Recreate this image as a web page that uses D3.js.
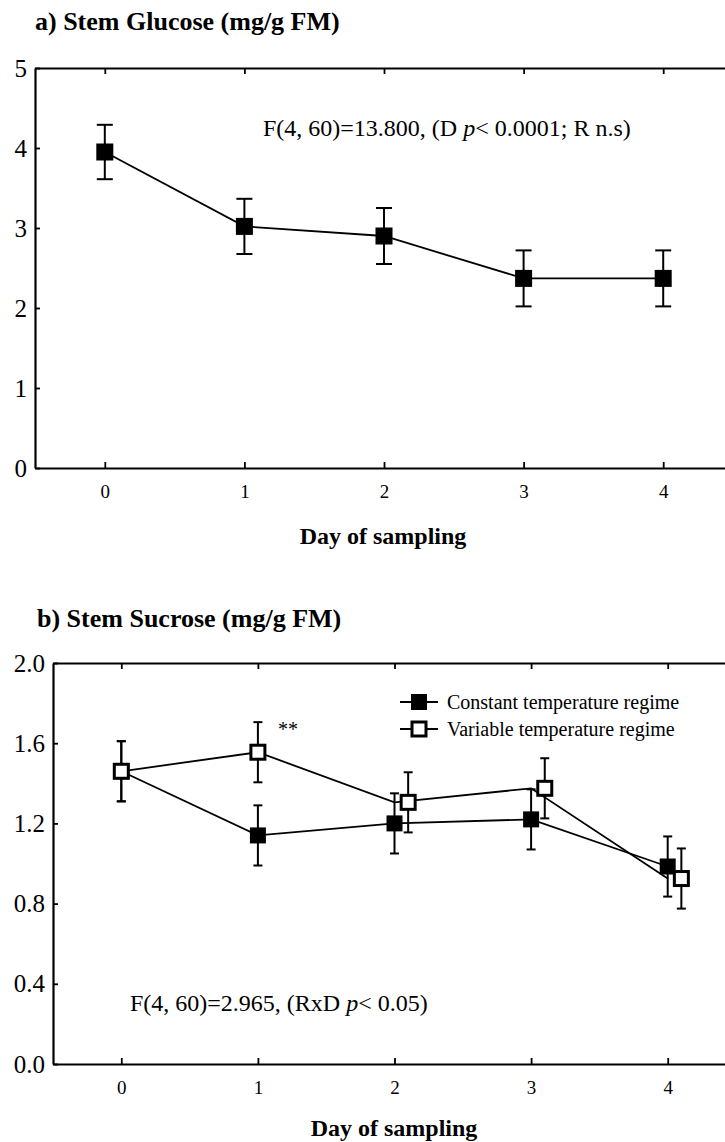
<!DOCTYPE html>
<html>
<head>
<meta charset="utf-8">
<script src="https://cdn.jsdelivr.net/npm/d3@7"></script>
<style>
  html, body { margin: 0; padding: 0; background: #fff; }
  svg { display: block; }
  text { font-family: "Liberation Serif", "Times New Roman", serif; fill: #000; }
</style>
</head>
<body>
<script>
// ---------- DATA ----------
const days = [0, 1, 2, 3, 4];

// Panel a: Stem glucose
const glucoseMean = [3.95, 3.02, 2.90, 2.37, 2.37];
const glucoseErr  = [0.34, 0.345, 0.35, 0.35, 0.35];
const glucoseTicks = [0, 1, 2, 3, 4, 5];

// Panel b: Stem sucrose
const constantMean = [1.46, 1.14, 1.20, 1.22, 0.985];
const constantErr  = [0.15, 0.15, 0.15, 0.15, 0.15];
const variableMean = [1.46, 1.555, 1.305, 1.375, 0.925];
const variableErr  = [0.15, 0.15, 0.15, 0.15, 0.15];
const variableShift = [0, 0, 0.1, 0.1, 0.1];
const sucroseTicks = [0.0, 0.4, 0.8, 1.2, 1.6, 2.0];

const seriesNames = ["Constant temperature regime", "Variable temperature regime"];

const titleA = "a) Stem Glucose (mg/g FM)";
const titleB = "b) Stem Sucrose (mg/g FM)";
const xTitle = "Day of sampling";

// ---------- DRAW ----------
const W = 725, H = 1142;
const FONT = "Liberation Serif, Times New Roman, serif";
const svg = d3.select("body").append("svg").attr("width", W).attr("height", H)
  .attr("font-family", FONT);

function drawFrame(g, x, y, yTicks, yFmt, top, bottom, left) {
  // top border with inward ticks
  g.append("g").attr("transform", `translate(0,${top})`)
    .call(d3.axisBottom(x).tickValues(days).tickSize(6).tickSizeOuter(0).tickFormat(""));
  // bottom axis with inward ticks
  g.append("g").attr("class", "xax").attr("transform", `translate(0,${bottom})`)
    .call(d3.axisBottom(x).tickValues(days).tickSize(-6).tickSizeOuter(0).tickPadding(17).tickFormat(d3.format("d")));
  // left axis
  g.append("g").attr("class", "yax").attr("transform", `translate(${left},0)`)
    .call(d3.axisLeft(y).tickValues(yTicks).tickSize(-5).tickSizeOuter(0).tickPadding(8).tickFormat(yFmt));
  g.selectAll("g").attr("font-family", FONT);
  g.selectAll(".domain").attr("stroke", "#000").attr("stroke-width", 2.2);
  g.selectAll(".tick line").attr("stroke", "#000").attr("stroke-width", 1.8);
  g.selectAll(".xax text").attr("font-size", 19).style("font-family", FONT);
  g.selectAll(".yax text").attr("font-size", 25).style("font-family", FONT);
}

// ----- Panel a -----
const gA = svg.append("g");
const xA = d3.scaleLinear().domain([-0.5, 4.5]).range([35, 733]);
const yA = d3.scaleLinear().domain([0, 5]).range([468, 68]);

gA.append("text").attr("x", 35).attr("y", 30)
  .style("font-size", "26px").style("font-weight", "bold").text(titleA);

drawFrame(gA, xA, yA, glucoseTicks, d3.format("d"), 68, 468, 35);

gA.append("text").attr("x", 383).attr("y", 544).attr("text-anchor", "middle")
  .style("font-size", "24px").style("font-weight", "bold").text(xTitle);

const annA = gA.append("text").attr("x", 263).attr("y", 136).style("font-size", "24px");
annA.append("tspan").text("F(4, 60)=13.800, (D ");
annA.append("tspan").style("font-style", "italic").text("p");
annA.append("tspan").text("< 0.0001; R n.s)");

const lineA = d3.line().x((d, i) => xA(days[i])).y(d => yA(d));
gA.append("path").datum(glucoseMean).attr("d", lineA)
  .attr("fill", "none").attr("stroke", "#000").attr("stroke-width", 1.8);

const ebA = gA.append("g").attr("stroke", "#000").attr("stroke-width", 2);
glucoseMean.forEach((m, i) => {
  const cx = xA(days[i]);
  ebA.append("line").attr("x1", cx).attr("x2", cx).attr("y1", yA(m + glucoseErr[i])).attr("y2", yA(m - glucoseErr[i]));
  ebA.append("line").attr("x1", cx - 8).attr("x2", cx + 8).attr("y1", yA(m + glucoseErr[i])).attr("y2", yA(m + glucoseErr[i]));
  ebA.append("line").attr("x1", cx - 8).attr("x2", cx + 8).attr("y1", yA(m - glucoseErr[i])).attr("y2", yA(m - glucoseErr[i]));
});
gA.selectAll("rect.m").data(glucoseMean).join("rect").attr("class", "m")
  .attr("x", (d, i) => xA(days[i]) - 8.5).attr("y", d => yA(d) - 8.5)
  .attr("width", 17).attr("height", 17).attr("fill", "#000");

// ----- Panel b -----
const gB = svg.append("g");
const xB = d3.scaleLinear().domain([-0.5, 4.5]).range([53, 736]);
const yB = d3.scaleLinear().domain([0, 2]).range([1064, 663]);

gB.append("text").attr("x", 37).attr("y", 627)
  .style("font-size", "26px").style("font-weight", "bold").text(titleB);

drawFrame(gB, xB, yB, sucroseTicks, d3.format(".1f"), 663, 1064, 53);

gB.append("text").attr("x", 394).attr("y", 1136).attr("text-anchor", "middle")
  .style("font-size", "24px").style("font-weight", "bold").text(xTitle);

const annB = gB.append("text").attr("x", 130).attr("y", 1011).style("font-size", "24px");
annB.append("tspan").text("F(4, 60)=2.965, (RxD ");
annB.append("tspan").style("font-style", "italic").text("p");
annB.append("tspan").text("< 0.05)");

gB.append("text").attr("x", xB(1) + 20).attr("y", yB(1.555) - 16)
  .style("font-size", "20px").text("**");

const lineB = d3.line().x((d, i) => xB(days[i])).y(d => yB(d));
gB.append("path").datum(constantMean).attr("d", lineB)
  .attr("fill", "none").attr("stroke", "#000").attr("stroke-width", 1.8);
gB.append("path").datum(variableMean).attr("d", lineB)
  .attr("fill", "none").attr("stroke", "#000").attr("stroke-width", 1.8);

function errBars(g, means, errs, shifts) {
  const eb = g.append("g").attr("stroke", "#000").attr("stroke-width", 2);
  means.forEach((m, i) => {
    const cx = xB(days[i] + shifts[i]);
    eb.append("line").attr("x1", cx).attr("x2", cx).attr("y1", yB(m + errs[i])).attr("y2", yB(m - errs[i]));
    eb.append("line").attr("x1", cx - 4.5).attr("x2", cx + 4.5).attr("y1", yB(m + errs[i])).attr("y2", yB(m + errs[i]));
    eb.append("line").attr("x1", cx - 4.5).attr("x2", cx + 4.5).attr("y1", yB(m - errs[i])).attr("y2", yB(m - errs[i]));
  });
}
errBars(gB, constantMean, constantErr, [0, 0, 0, 0, 0]);
errBars(gB, variableMean, variableErr, variableShift);

gB.selectAll("rect.c").data(constantMean).join("rect").attr("class", "c")
  .attr("x", (d, i) => xB(days[i]) - 8).attr("y", d => yB(d) - 8)
  .attr("width", 16).attr("height", 16).attr("fill", "#000");
gB.selectAll("rect.v").data(variableMean).join("rect").attr("class", "v")
  .attr("x", (d, i) => xB(days[i] + variableShift[i]) - 7).attr("y", d => yB(d) - 7)
  .attr("width", 14).attr("height", 14).attr("fill", "#fff")
  .attr("stroke", "#000").attr("stroke-width", 3);

// legend
const leg = gB.append("g");
seriesNames.forEach((name, i) => {
  const ly = 702 + i * 27;
  leg.append("line").attr("x1", 400).attr("x2", 438).attr("y1", ly).attr("y2", ly)
    .attr("stroke", "#000").attr("stroke-width", 2);
  if (i === 0) {
    leg.append("rect").attr("x", 419 - 8).attr("y", ly - 8).attr("width", 16).attr("height", 16).attr("fill", "#000");
  } else {
    leg.append("rect").attr("x", 419 - 7).attr("y", ly - 7).attr("width", 14).attr("height", 14)
      .attr("fill", "#fff").attr("stroke", "#000").attr("stroke-width", 3);
  }
  leg.append("text").attr("x", 447).attr("y", ly).attr("dy", "0.35em")
    .style("font-size", "20px").text(name);
});
</script>
</body>
</html>
